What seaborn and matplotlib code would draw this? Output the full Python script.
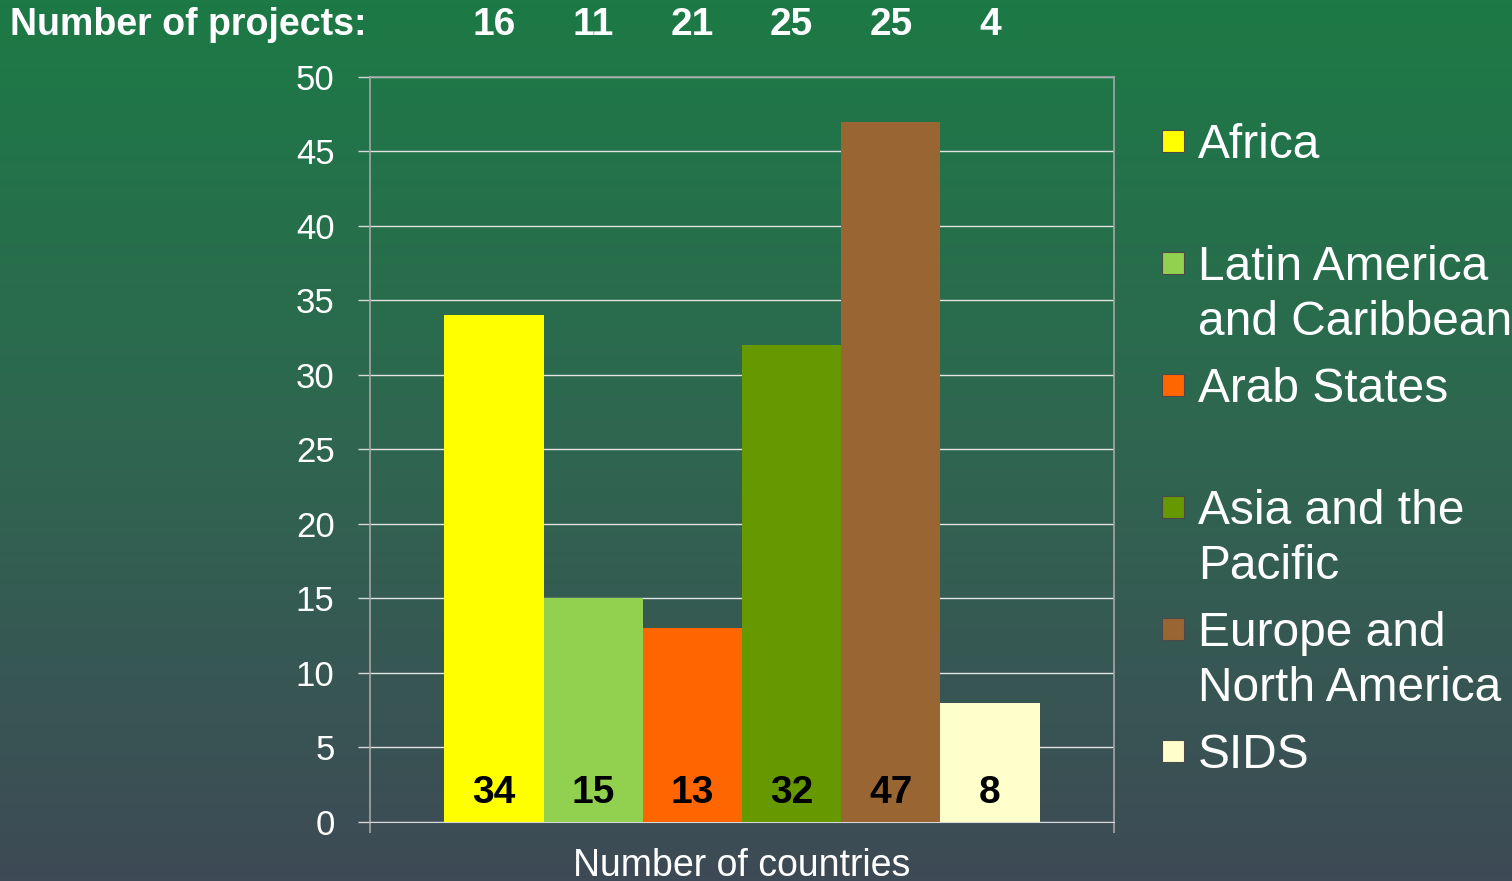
import pandas as pd
import seaborn as sea
import matplotlib.pyplot as plt
import numpy as np
from matplotlib.colors import LinearSegmentedColormap
from matplotlib.patches import Rectangle
from matplotlib.transforms import blended_transform_factory

# data
regions = ['Africa', 'Latin America\nand Caribbean', 'Arab States',
           'Asia and the\nPacific', 'Europe and\nNorth America', 'SIDS']
countries = [34, 15, 13, 32, 47, 8]
projects = [16, 11, 21, 25, 25, 4]
bar_colors = ['#FFFF00', '#92D050', '#FF6600', '#669900', '#996633', '#FFFFCC']
y_ticks = [0, 5, 10, 15, 20, 25, 30, 35, 40, 45, 50]

data = pd.DataFrame({'group': ['countries'] * len(regions),
                     'region': regions,
                     'countries': countries})

sea.set_style('white')
plt.rcParams['font.family'] = ['Liberation Sans', 'DejaVu Sans']

fig = plt.figure(figsize=(15.12, 8.81), dpi=100)

# background gradient (green -> slate)
bg = fig.add_axes([0, 0, 1, 1], zorder=-10)
grad_cmap = LinearSegmentedColormap.from_list('bg', ['#1c7a46', '#2f6650', '#3e4a56'])
bg.imshow(np.linspace(0, 1, 256).reshape(-1, 1), cmap=grad_cmap, aspect='auto',
          extent=[0, 1, 0, 1])
bg.set_axis_off()

ax = fig.add_axes([0.2447, 0.0670, 0.4921, 0.8456])
ax.patch.set_alpha(0)

sea.barplot(data=data, x='group', y='countries', hue='region', hue_order=regions,
            palette=bar_colors, saturation=1, width=0.8, legend=False, ax=ax,
            linewidth=0, zorder=3)

ax.set_xlim(-0.5, 0.5)
ax.set_ylim(0, 50)
ax.set_yticks(y_ticks)
ax.set_axisbelow(True)
ax.yaxis.grid(True, color='#e4e4e4', lw=1.0)
ax.tick_params(axis='y', colors='#d8d8d8', labelcolor='white', labelsize=25,
               length=8.5, width=1, pad=17, left=True)
ax.set_xticks([-0.5, 0.5])
ax.set_xticklabels(['', ''])
ax.tick_params(axis='x', colors='#a6a6a6', length=8, width=1.2, bottom=True)
ax.set_xlabel('Number of countries', color='white', fontsize=27, labelpad=7)
ax.set_ylabel('')
for side in ['left', 'right', 'top']:
    ax.spines[side].set_color('#a6a6a6')
    ax.spines[side].set_linewidth(1.2)
ax.spines['bottom'].set_color('#d8d8d8')

# numbers inside the bars + number of projects on top
trans = blended_transform_factory(ax.transData, fig.transFigure)
for bar, n_c, n_p in zip(ax.patches, countries, projects):
    cx = bar.get_x() + bar.get_width() / 2
    ax.text(cx, 1.95, str(n_c), ha='center', va='center', fontsize=28,
            fontweight='bold', color='black', zorder=5)
    ax.text(cx, 0.972, str(n_p), transform=trans, ha='center', va='center',
            fontsize=28, fontweight='bold', color='white')

fig.text(0.0066, 0.972, 'Number of projects:', ha='left', va='center',
         fontsize=27, fontweight='bold', color='white')

# legend, one slot per region, handle next to first line
W, H = 1512, 881
first_line = [141, 263, 385, 507, 629, 751]
for lab, col, yc in zip(regions, bar_colors, first_line):
    fig.patches.append(Rectangle((1162 / W, 1 - (yc + 11) / H), 22 / W, 22 / H,
                                 facecolor=col, edgecolor='#4a4a4a', lw=0.8,
                                 transform=fig.transFigure, figure=fig))
    for i, line in enumerate(lab.split('\n')):
        fig.text(1198 / W, 1 - (yc + 17 + 55 * i) / H, line, ha='left',
                 va='baseline', fontsize=34.5, color='white')

fig.savefig('out.png', dpi=100)
